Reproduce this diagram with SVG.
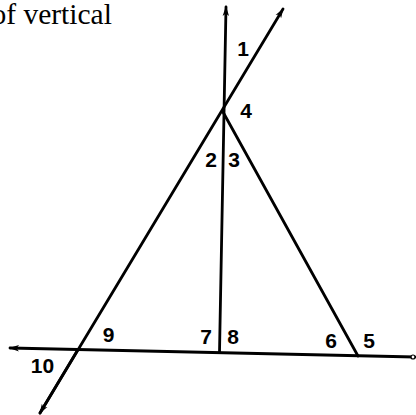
<svg xmlns="http://www.w3.org/2000/svg" width="416" height="415" viewBox="0 0 416 415">
<defs>
<style>
.ln{stroke:#000;stroke-width:2.8;fill:none;stroke-linecap:round}
.lb{font-family:"Liberation Sans",Arial,sans-serif;font-weight:bold;font-size:21px;fill:#000;text-anchor:middle}
.cap{font-family:"Liberation Serif","Times New Roman",serif;font-size:29.5px;fill:#000}
</style>
<marker id="arr" viewBox="0 0 10 8" refX="9" refY="4" markerWidth="11" markerHeight="8" markerUnits="userSpaceOnUse" orient="auto">
<path d="M0,0.8 L10,4 L0,7.2 L2.5,4 Z" fill="#000"/>
</marker>
</defs>
<rect width="416" height="415" fill="#fff"/>
<text class="cap" x="-8.5" y="24">of vertical</text>
<g id="connectors">
<line class="ln" x1="219.5" y1="352" x2="226" y2="7" marker-end="url(#arr)"/>
<line class="ln" x1="40" y1="413" x2="283" y2="9" marker-end="url(#arr)"/>
<line class="ln" x1="78" y1="349.5" x2="40" y2="413" marker-end="url(#arr)"/>
<line class="ln" x1="223" y1="112" x2="358" y2="356"/>
<line class="ln" x1="415" y1="357" x2="10" y2="348" marker-end="url(#arr)"/>
<circle cx="413" cy="357" r="2" fill="#fff" stroke="#000" stroke-width="1.2"/>
</g>
<g id="label-1"><text class="lb" x="243" y="56">1</text></g>
<g id="label-2"><text class="lb" x="211" y="167">2</text></g>
<g id="label-3"><text class="lb" x="234" y="167">3</text></g>
<g id="label-4"><text class="lb" x="246" y="118">4</text></g>
<g id="label-5"><text class="lb" x="369" y="348">5</text></g>
<g id="label-6"><text class="lb" x="331" y="348">6</text></g>
<g id="label-7"><text class="lb" x="206" y="344">7</text></g>
<g id="label-8"><text class="lb" x="233" y="344">8</text></g>
<g id="label-9"><text class="lb" x="108.5" y="342">9</text></g>
<g id="label-10"><text class="lb" x="42.5" y="373">10</text></g>
</svg>
